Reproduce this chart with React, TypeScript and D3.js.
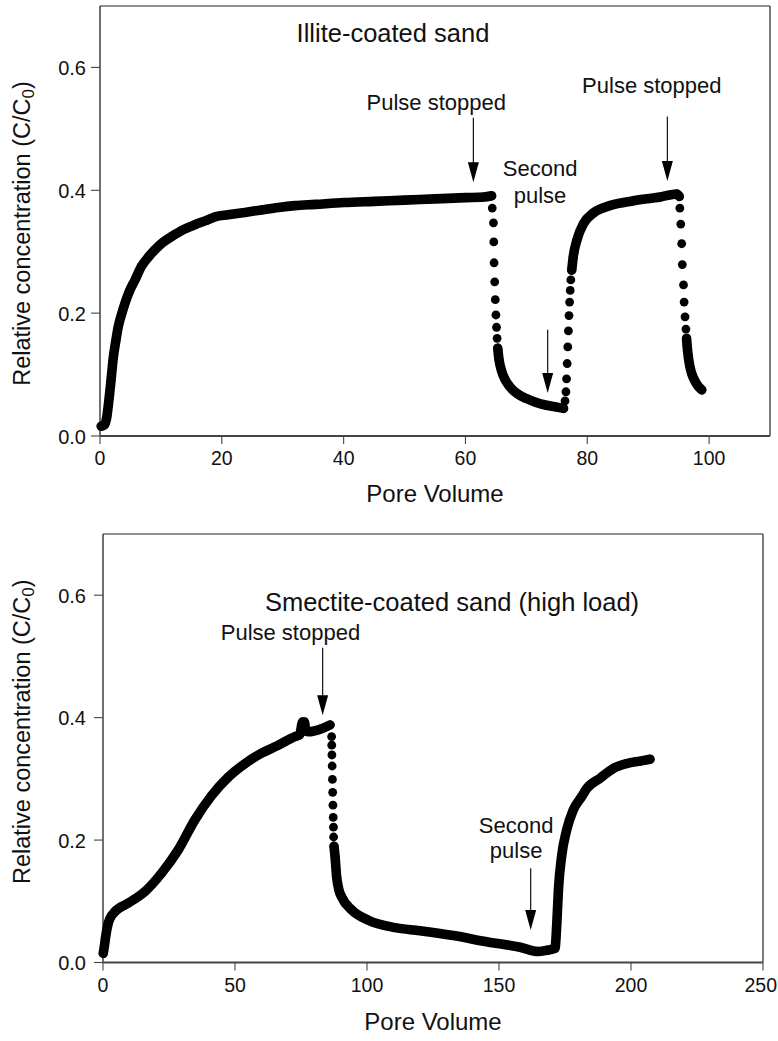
import React from 'react';
import * as d3 from 'd3';

type Pt = [number, number];

// ---------- shared axis values ----------
const yTicks = [0, 0.2, 0.4, 0.6];
const illiteXTicks = [0, 20, 40, 60, 80, 100];
const smectiteXTicks = [0, 50, 100, 150, 200, 250];

// ---------- Illite-coated sand (pore volume, C/C0) ----------
const illiteRun1: Pt[] = [
  [0.2, 0.016], [0.7, 0.018], [1.1, 0.03], [1.4, 0.053], [1.8, 0.09], [2.2, 0.129],
  [2.6, 0.155], [3.0, 0.178], [3.6, 0.2], [4.1, 0.216], [4.8, 0.235], [5.75, 0.254],
  [6.8, 0.276], [8.0, 0.292], [9.0, 0.303], [10.3, 0.315], [11.8, 0.325], [13.5, 0.335],
  [15.6, 0.344], [17.5, 0.351], [19.0, 0.357], [21, 0.36], [23.8, 0.364], [26.5, 0.368],
  [29.3, 0.372], [32, 0.375], [35.3, 0.377], [40, 0.38], [45, 0.382], [50, 0.384],
  [55, 0.386], [60, 0.388], [63, 0.389], [64.3, 0.391],
];
const illiteDrop1: Pt[] = [
  [64.4, 0.371], [64.6, 0.347], [64.65, 0.316], [64.7, 0.282], [64.8, 0.251],
  [64.9, 0.222], [65.0, 0.197], [65.1, 0.177], [65.2, 0.159],
];
const illiteRun2: Pt[] = [
  [65.3, 0.143], [65.5, 0.125], [65.9, 0.107], [66.5, 0.092], [67.3, 0.08], [68.5, 0.069],
  [70.0, 0.061], [71.5, 0.055], [73.3, 0.05], [75, 0.047], [76.1, 0.045],
];
const illiteRise: Pt[] = [
  [76.35, 0.057], [76.5, 0.072], [76.6, 0.093], [76.7, 0.118], [76.8, 0.145], [76.9, 0.171],
  [77.0, 0.196], [77.1, 0.218], [77.2, 0.237], [77.3, 0.254],
];
const illiteRun3: Pt[] = [
  [77.45, 0.27], [77.7, 0.292], [78.3, 0.319], [79.4, 0.346], [81, 0.363], [83.7, 0.375],
  [87.6, 0.383], [92, 0.389], [94.7, 0.394], [95.1, 0.39],
];
const illiteDrop2: Pt[] = [
  [95.2, 0.371], [95.35, 0.345], [95.5, 0.313], [95.6, 0.279], [95.8, 0.246],
  [95.9, 0.218], [96.05, 0.194], [96.2, 0.174],
];
const illiteRun4: Pt[] = [
  [96.3, 0.159], [96.4, 0.146], [96.6, 0.128], [96.85, 0.113], [97.2, 0.1], [97.7, 0.089],
  [98.2, 0.081], [98.8, 0.075],
];

// ---------- Smectite-coated sand, high load ----------
const smectiteRun1: Pt[] = [
  [0.1, 0.015], [0.5, 0.026], [1.0, 0.042], [1.8, 0.061], [2.65, 0.072], [4.5, 0.083],
  [9.6, 0.097], [15.9, 0.116], [22.2, 0.146], [28.5, 0.184], [34.8, 0.233], [41.2, 0.273],
  [47.5, 0.303], [53.8, 0.325], [60.1, 0.342], [66.4, 0.355], [72.7, 0.369], [74.5, 0.372],
  [75.6, 0.393], [76.3, 0.393], [76.8, 0.378], [77.8, 0.377], [82.8, 0.382], [86, 0.388],
];
const smectiteDrop: Pt[] = [
  [86.6, 0.369], [86.65, 0.355], [86.7, 0.339], [86.8, 0.321], [86.9, 0.299],
  [87.0, 0.278], [87.1, 0.257], [87.2, 0.237], [87.3, 0.221], [87.35, 0.205],
];
const smectiteRun2: Pt[] = [
  [87.5, 0.19], [87.9, 0.173], [88.5, 0.14], [89.4, 0.118], [90.4, 0.107], [94.2, 0.086],
  [100.5, 0.069], [110.6, 0.057], [120, 0.052], [132.7, 0.044], [145.3, 0.034],
  [158, 0.025], [164.9, 0.018], [168.1, 0.02], [171.2, 0.023], [171.9, 0.064],
  [172.5, 0.118], [173.7, 0.173], [175.6, 0.216], [178.1, 0.249], [181.3, 0.271],
  [183.2, 0.284], [188.3, 0.301], [193.3, 0.317], [198.4, 0.325], [203.4, 0.329],
  [207.2, 0.332],
];

const FONT = '"Liberation Sans", Arial, Helvetica, sans-serif';
const R = 4.4;
const BAND = 9.6;

type Box = { left: number; top: number; width: number; height: number };

function Arrow({ x, y0, y1 }: { x: number; y0: number; y1: number }) {
  const head = 20;
  const hw = 5.5;
  return (
    <g>
      <line x1={x} x2={x} y1={y0} y2={y1 - head + 2} stroke="#111" strokeWidth={1.2} />
      <path d={`M${x - hw},${y1 - head}L${x + hw},${y1 - head}L${x},${y1}Z`} fill="#000" />
    </g>
  );
}

function Panel({
  box, xMax, xTicks, runs, dots, yTitleCy, xTitleY, annotate,
}: {
  box: Box; xMax: number; xTicks: number[]; runs: Pt[][]; dots: Pt[][];
  yTitleCy: number; xTitleY: number;
  annotate: (x: d3.ScaleLinear<number, number>, y: d3.ScaleLinear<number, number>) => React.ReactNode;
}) {
  const x = d3.scaleLinear().domain([0, xMax]).range([box.left, box.left + box.width]);
  const y = d3.scaleLinear().domain([0, 0.7]).range([box.top + box.height, box.top]);
  const line = d3.line<Pt>().x(d => x(d[0])).y(d => y(d[1])).curve(d3.curveMonotoneX);
  const bottom = box.top + box.height;
  const right = box.left + box.width;
  const fmt = d3.format('.1f');
  return (
    <g fontFamily={FONT}>
      {/* frame */}
      <line x1={box.left} x2={right} y1={box.top} y2={box.top} stroke="#222" strokeWidth={1.2} />
      <line x1={right} x2={right} y1={box.top} y2={bottom} stroke="#222" strokeWidth={1.2} />
      <line x1={box.left} x2={box.left} y1={box.top} y2={bottom} stroke="#333" strokeWidth={1.4} />
      <line x1={box.left} x2={right} y1={bottom} y2={bottom} stroke="#444" strokeWidth={1.8} />
      {/* y ticks */}
      {yTicks.map(t => (
        <g key={'y' + t}>
          <line x1={box.left - 9} x2={box.left} y1={y(t)} y2={y(t)} stroke="#444" strokeWidth={1.1} />
          <text x={86} y={y(t) + 7.5} textAnchor="end" fontSize={20} fill="#111">{fmt(t)}</text>
        </g>
      ))}
      {/* x ticks */}
      {xTicks.map(t => {
        const px = x(t);
        const overflow = px + 17 > 777;
        return (
          <g key={'x' + t}>
            <line x1={px} x2={px} y1={bottom} y2={bottom + 8} stroke="#444" strokeWidth={1.1} />
            <text x={overflow ? 777 : px} y={bottom + 29} textAnchor={overflow ? 'end' : 'middle'}
              fontSize={19.5} fill="#111">{t}</text>
          </g>
        );
      })}
      {/* axis titles */}
      <text x={(box.left + right) / 2} y={xTitleY} textAnchor="middle" fontSize={24} fill="#111">Pore Volume</text>
      <text transform={`translate(30,${yTitleCy}) rotate(-90)`} textAnchor="middle" fontSize={23.5} fill="#111">
        Relative concentration (C/C<tspan fontSize={17} dy={4}>0</tspan><tspan dy={-4}>)</tspan>
      </text>
      {/* data */}
      {runs.map((r, i) => (
        <path key={'r' + i} d={line(r) || ''} fill="none" stroke="#000" strokeWidth={BAND}
          strokeLinecap="round" strokeLinejoin="round" />
      ))}
      {runs.concat(dots).map((r, i) => r.map((d, j) => (
        <circle key={`c${i}-${j}`} cx={x(d[0])} cy={y(d[1])} r={R} fill="#000" />
      )))}
      {annotate(x, y)}
    </g>
  );
}

export default function App() {
  const topBox: Box = { left: 100, top: 6, width: 670, height: 430 };
  const botBox: Box = { left: 103, top: 534, width: 660, height: 428.5 };
  return (
    <svg width={778} height={1041} style={{ position: 'absolute', left: 0, top: 0, background: '#fff' }}>
      <rect width={778} height={1041} fill="#fff" />
      <Panel
        box={topBox} xMax={110} xTicks={illiteXTicks}
        runs={[illiteRun1, illiteRun2, illiteRun3, illiteRun4]}
        dots={[illiteDrop1, illiteRise, illiteDrop2]}
        yTitleCy={233.5} xTitleY={502}
        annotate={(x, y) => (
          <g fill="#111">
            <text x={x(48.1)} y={y(0.641)} textAnchor="middle" fontSize={25.5}>Illite-coated sand</text>
            <text x={x(55.2)} y={y(0.531)} textAnchor="middle" fontSize={22}>Pulse stopped</text>
            <Arrow x={x(61.3)} y0={y(0.518)} y1={y(0.413)} />
            <text x={x(90.6)} y={y(0.559)} textAnchor="middle" fontSize={22}>Pulse stopped</text>
            <Arrow x={x(93.15)} y0={y(0.52)} y1={y(0.415)} />
            <text x={x(72.25)} y={y(0.424)} textAnchor="middle" fontSize={22}>Second</text>
            <text x={x(72.25)} y={y(0.38)} textAnchor="middle" fontSize={22}>pulse</text>
            <Arrow x={x(73.5)} y0={y(0.173)} y1={y(0.07)} />
          </g>
        )}
      />
      <Panel
        box={botBox} xMax={250} xTicks={smectiteXTicks}
        runs={[smectiteRun1, smectiteRun2]}
        dots={[smectiteDrop]}
        yTitleCy={731.7} xTitleY={1030}
        annotate={(x, y) => (
          <g fill="#111">
            <text x={x(132.2)} y={y(0.574)} textAnchor="middle" fontSize={25.5}>Smectite-coated sand (high load)</text>
            <text x={x(71)} y={y(0.527)} textAnchor="middle" fontSize={22}>Pulse stopped</text>
            <Arrow x={x(83.2)} y0={y(0.514)} y1={y(0.404)} />
            <text x={x(156.5)} y={y(0.212)} textAnchor="middle" fontSize={22}>Second</text>
            <text x={x(156.5)} y={y(0.171)} textAnchor="middle" fontSize={22}>pulse</text>
            <Arrow x={x(162)} y0={y(0.154)} y1={y(0.053)} />
          </g>
        )}
      />
    </svg>
  );
}
